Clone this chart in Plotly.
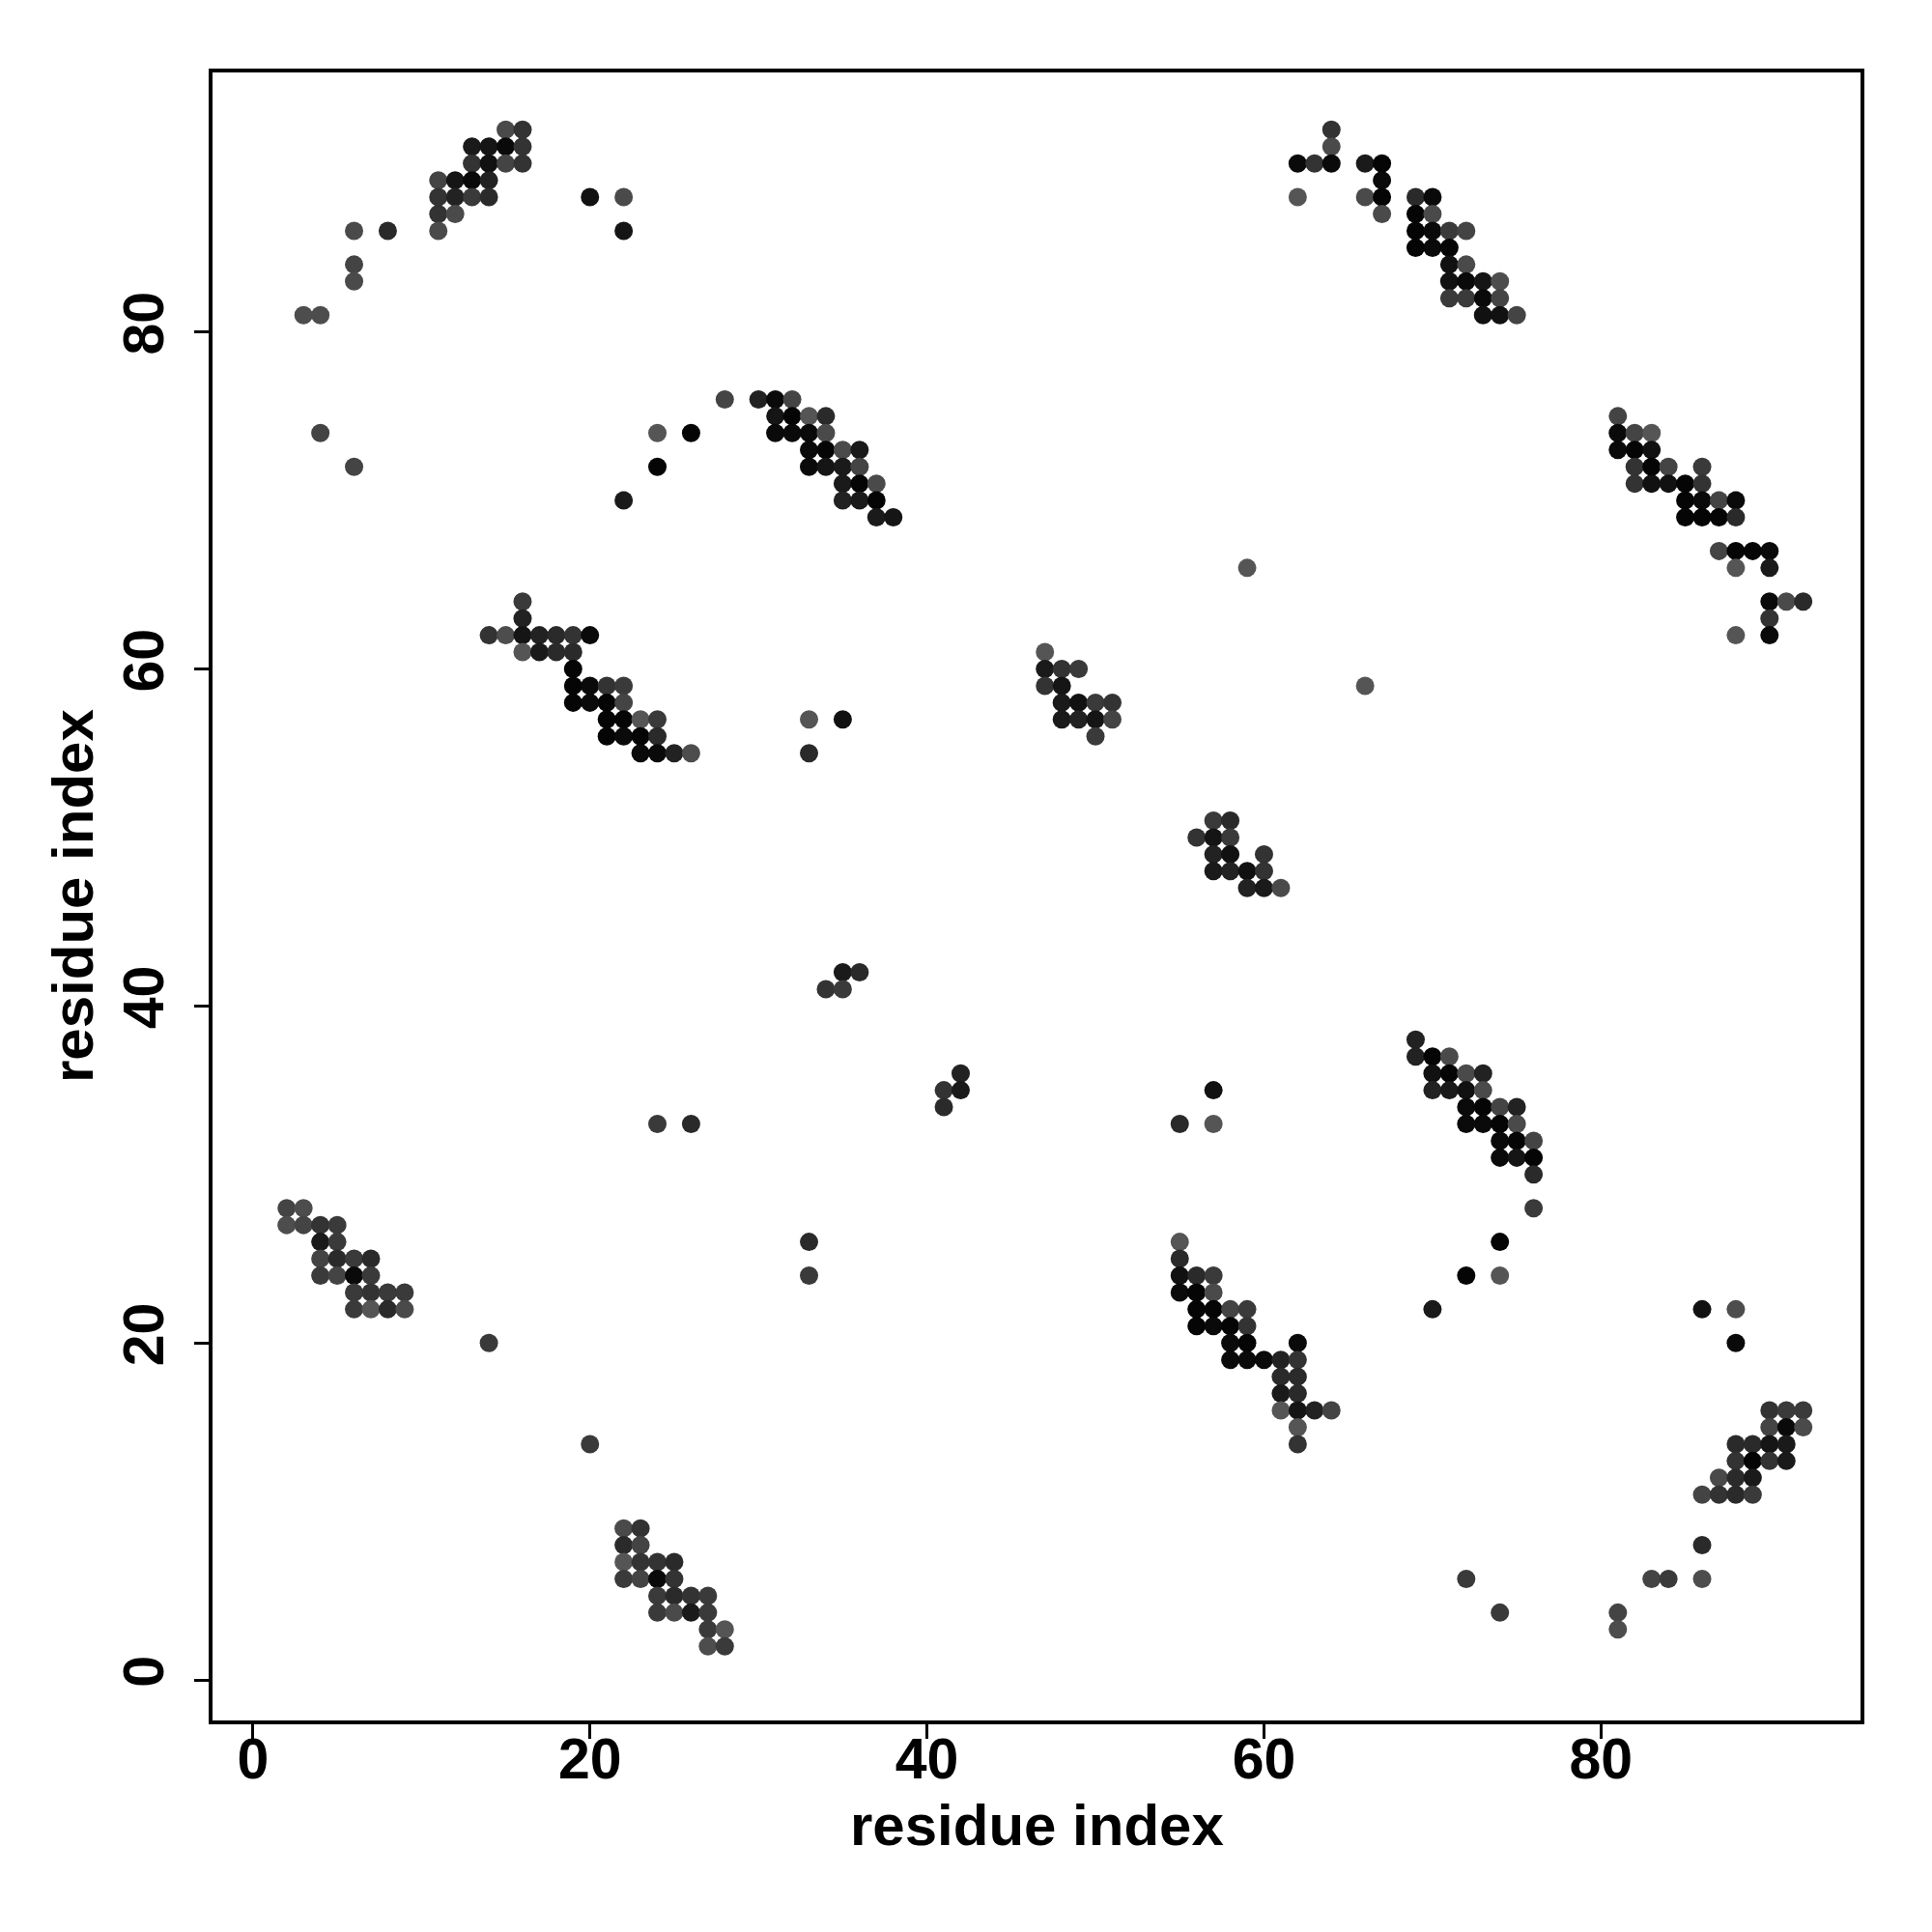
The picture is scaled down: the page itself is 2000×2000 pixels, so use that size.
import plotly.graph_objects as go

# Contact map: residue pairs (x = residue i, y = residue j) and grey shade (0 = black .. 255 = white)
residue_x = [
    # top-left
    15, 16, 13, 14, 15, 16, 13, 14, 15, 16, 11, 12, 13, 14, 11, 12, 13, 14, 20, 22, 11, 12,
    6, 8, 11, 22, 6, 6, 3, 4,
    # upper middle
    28, 30, 31, 32, 4, 24, 26, 6, 24, 31, 32, 33, 34, 31, 32, 33, 34, 33, 34, 35, 36,
    33, 34, 35, 36, 35, 36, 37, 35, 36, 37, 37, 38, 22,
    # top right
    64, 64, 62, 63, 64, 66, 67, 67, 62, 66, 67, 69, 70, 67, 69, 70, 69, 70, 71, 72,
    69, 70, 71, 71, 72, 71, 72, 73, 74, 71, 72, 73, 74, 73, 74, 75,
    # right
    81, 81, 82, 83, 81, 82, 83, 82, 83, 84, 86, 82, 83, 84, 85, 86, 85, 86, 87, 88,
    85, 86, 87, 88, 87, 88, 89, 90, 88, 90, 90, 91, 92, 90, 88, 90, 66, 59,
    # middle left
    16, 16, 14, 15, 16, 17, 18, 19, 20, 16, 17, 18, 19, 19, 19, 20, 21, 22, 19, 20, 21, 22,
    21, 22, 23, 24, 21, 22, 23, 24, 23, 24, 25, 26,
    # middle
    33, 35, 33, 47, 47, 48, 49, 47, 48, 48, 49, 50, 51, 48, 49, 50, 51, 50,
    57, 58, 56, 57, 58, 57, 58, 60, 57, 58, 59, 60, 59, 60, 61,
    # centre
    35, 36, 34, 35, 42, 41, 42, 41, 57, 55, 57, 24, 26,
    # lower right diagonal
    69, 69, 70, 71, 70, 71, 72, 73, 70, 71, 72, 73, 72, 73, 74, 75, 72, 73, 74, 75,
    74, 75, 76, 74, 75, 76, 76, 76, 74, 72, 74, 70, 86, 88, 88,
    # lower left
    2, 3, 2, 3, 4, 5, 4, 5, 4, 5, 6, 7, 4, 5, 6, 7, 6, 7, 8, 9, 6, 7, 8, 9, 14, 20, 33, 33,
    # bottom
    22, 23, 22, 23, 22, 23, 24, 25, 22, 23, 24, 25, 24, 25, 26, 27, 24, 25, 26, 27, 27, 28, 27, 28,
    # lower middle
    55, 55, 55, 56, 57, 55, 56, 57, 56, 57, 58, 59, 56, 57, 58, 59, 58, 59, 62,
    58, 59, 60, 61, 62, 61, 62, 61, 62, 61, 62, 63, 64, 62, 62,
    # bottom right
    90, 91, 92, 90, 91, 92, 88, 89, 90, 91, 88, 89, 90, 91, 87, 88, 89, 86, 87, 88, 89,
    86, 72, 83, 84, 86, 74, 81, 81,
]

residue_y = [
    # top-left
    92, 92, 91, 91, 91, 91, 90, 90, 90, 90, 89, 89, 89, 89, 88, 88, 88, 88, 88, 88, 87, 87,
    86, 86, 86, 86, 84, 83, 81, 81,
    # upper middle
    76, 76, 76, 76, 74, 74, 74, 72, 72, 75, 75, 75, 75, 74, 74, 74, 74, 73, 73, 73, 73,
    72, 72, 72, 72, 71, 71, 71, 70, 70, 70, 69, 69, 70,
    # top right
    92, 91, 90, 90, 90, 90, 90, 89, 88, 88, 88, 88, 88, 87, 87, 87, 86, 86, 86, 86,
    85, 85, 85, 84, 84, 83, 83, 83, 83, 82, 82, 82, 82, 81, 81, 81,
    # right
    75, 74, 74, 74, 73, 73, 73, 72, 72, 72, 72, 71, 71, 71, 71, 71, 70, 70, 70, 70,
    69, 69, 69, 69, 67, 67, 67, 67, 66, 66, 64, 64, 64, 63, 62, 62, 59, 66,
    # middle left
    64, 63, 62, 62, 62, 62, 62, 62, 62, 61, 61, 61, 61, 60, 59, 59, 59, 59, 58, 58, 58, 58,
    57, 57, 57, 57, 56, 56, 56, 56, 55, 55, 55, 55,
    # middle
    57, 57, 55, 61, 60, 60, 60, 59, 59, 58, 58, 58, 58, 57, 57, 57, 57, 56,
    51, 51, 50, 50, 50, 49, 49, 49, 48, 48, 48, 48, 47, 47, 47,
    # centre
    42, 42, 41, 41, 36, 35, 35, 34, 35, 33, 33, 33, 33,
    # lower right diagonal
    38, 37, 37, 37, 36, 36, 36, 36, 35, 35, 35, 35, 34, 34, 34, 34, 33, 33, 33, 33,
    32, 32, 32, 31, 31, 31, 30, 28, 26, 24, 24, 22, 22, 22, 20,
    # lower left
    28, 28, 27, 27, 27, 27, 26, 26, 25, 25, 25, 25, 24, 24, 24, 24, 23, 23, 23, 23, 22, 22, 22, 22, 20, 14, 26, 24,
    # bottom
    9, 9, 8, 8, 7, 7, 7, 7, 6, 6, 6, 6, 5, 5, 5, 5, 4, 4, 4, 4, 3, 3, 2, 2,
    # lower middle
    26, 25, 24, 24, 24, 23, 23, 23, 22, 22, 22, 22, 21, 21, 21, 21, 20, 20, 20,
    19, 19, 19, 19, 19, 18, 18, 17, 17, 16, 16, 16, 16, 15, 14,
    # bottom right
    16, 16, 16, 15, 15, 15, 14, 14, 14, 14, 13, 13, 13, 13, 12, 12, 12, 11, 11, 11, 11,
    8, 6, 6, 6, 6, 4, 4, 3,
]

shade = [
    # top-left
    74, 51, 26, 21, 10, 51, 51, 17, 68, 51, 68, 21, 10, 34, 51, 34, 58, 42, 17, 74, 51, 74,
    74, 42, 74, 21, 68, 74, 77, 77,
    # upper middle
    68, 34, 10, 68, 68, 85, 5, 68, 5, 21, 5, 85, 42, 10, 10, 10, 74, 10, 5, 74, 26,
    10, 21, 26, 68, 26, 5, 74, 34, 26, 5, 26, 21, 26,
    # top right
    51, 74, 10, 51, 10, 26, 5, 10, 85, 74, 5, 42, 10, 74, 5, 74, 5, 10, 58, 68,
    5, 10, 5, 17, 74, 17, 10, 21, 77, 58, 58, 10, 68, 17, 17, 68,
    # right
    68, 10, 68, 85, 10, 5, 17, 51, 5, 68, 58, 51, 17, 17, 5, 51, 5, 10, 68, 10,
    5, 5, 5, 42, 68, 5, 5, 10, 85, 26, 10, 74, 42, 51, 85, 10, 85, 85,
    # middle left
    58, 34, 51, 77, 21, 34, 42, 51, 10, 85, 26, 42, 42, 5, 5, 10, 51, 58, 5, 10, 5, 68,
    5, 5, 85, 58, 5, 10, 5, 42, 10, 10, 34, 77,
    # middle
    85, 17, 42, 85, 26, 51, 58, 51, 21, 26, 17, 58, 51, 26, 34, 21, 68, 58,
    58, 42, 51, 21, 58, 34, 17, 51, 26, 34, 17, 51, 34, 26, 74,
    # centre
    26, 42, 51, 58, 34, 51, 26, 42, 17, 42, 85, 58, 42,
    # lower right diagonal
    34, 34, 5, 74, 17, 5, 74, 34, 34, 26, 17, 74, 10, 5, 68, 34, 10, 10, 5, 74,
    10, 5, 68, 10, 21, 5, 42, 58, 5, 5, 85, 26, 17, 77, 10,
    # lower left
    68, 77, 77, 68, 51, 58, 26, 58, 68, 42, 58, 42, 58, 68, 10, 58, 58, 51, 58, 58, 58, 85, 42, 74, 58, 58, 42, 58,
    # bottom
    74, 51, 42, 68, 85, 51, 51, 42, 58, 68, 10, 51, 58, 42, 51, 58, 58, 74, 26, 58, 58, 85, 77, 58,
    # lower middle
    85, 42, 17, 42, 58, 10, 5, 74, 5, 5, 68, 58, 5, 10, 5, 51, 10, 5, 10,
    10, 10, 10, 34, 51, 42, 42, 26, 42, 85, 21, 34, 68, 85, 51,
    # bottom right
    51, 58, 58, 68, 10, 74, 42, 42, 21, 26, 51, 5, 51, 26, 74, 42, 26, 68, 51, 42, 58,
    42, 58, 68, 58, 77, 58, 68, 77,
]

tick_vals = [0, 20, 40, 60, 80]
tick_text = ["0", "20", "40", "60", "80"]
x_title = "residue index"
y_title = "residue index"

assert len(residue_x) == len(residue_y) == len(shade)

FONT = "Liberation Sans, Arial, Helvetica, sans-serif"

fig = go.Figure(
    go.Scatter(
        x=residue_x,
        y=residue_y,
        mode="markers",
        marker=dict(
            size=19,
            color=shade,
            colorscale=[[0, "rgb(0,0,0)"], [1, "rgb(255,255,255)"]],
            cmin=0,
            cmax=255,
            line=dict(width=0),
            showscale=False,
        ),
        hoverinfo="x+y",
    )
)

axis_common = dict(
    range=[-2.4, 95.4],
    tickvals=tick_vals,
    ticktext=tick_text,
    ticks="outside",
    ticklen=15,
    tickwidth=3,
    tickcolor="black",
    showline=True,
    linecolor="black",
    linewidth=4,
    mirror=True,
    showgrid=False,
    zeroline=False,
    tickfont=dict(family=FONT, size=59, color="black", weight="bold"),
)

fig.update_xaxes(**axis_common, ticklabelstandoff=-30)
fig.update_yaxes(**axis_common, tickangle=-90, ticklabelstandoff=8)

fig.update_layout(
    width=1984,
    height=1984,
    margin=dict(l=212, r=66, t=67, b=211),
    plot_bgcolor="white",
    paper_bgcolor="white",
    showlegend=False,
    annotations=[
        dict(
            text=x_title, xref="paper", yref="paper", x=0.5, y=0,
            xanchor="center", yanchor="middle", yshift=-108, showarrow=False,
            font=dict(family=FONT, size=60, color="black", weight="bold"),
        ),
        dict(
            text=y_title, xref="paper", yref="paper", x=0, y=0.5,
            xanchor="center", yanchor="middle", xshift=-145, textangle=-90,
            showarrow=False,
            font=dict(family=FONT, size=60, color="black", weight="bold"),
        ),
    ],
)

fig.write_html("out.html")
